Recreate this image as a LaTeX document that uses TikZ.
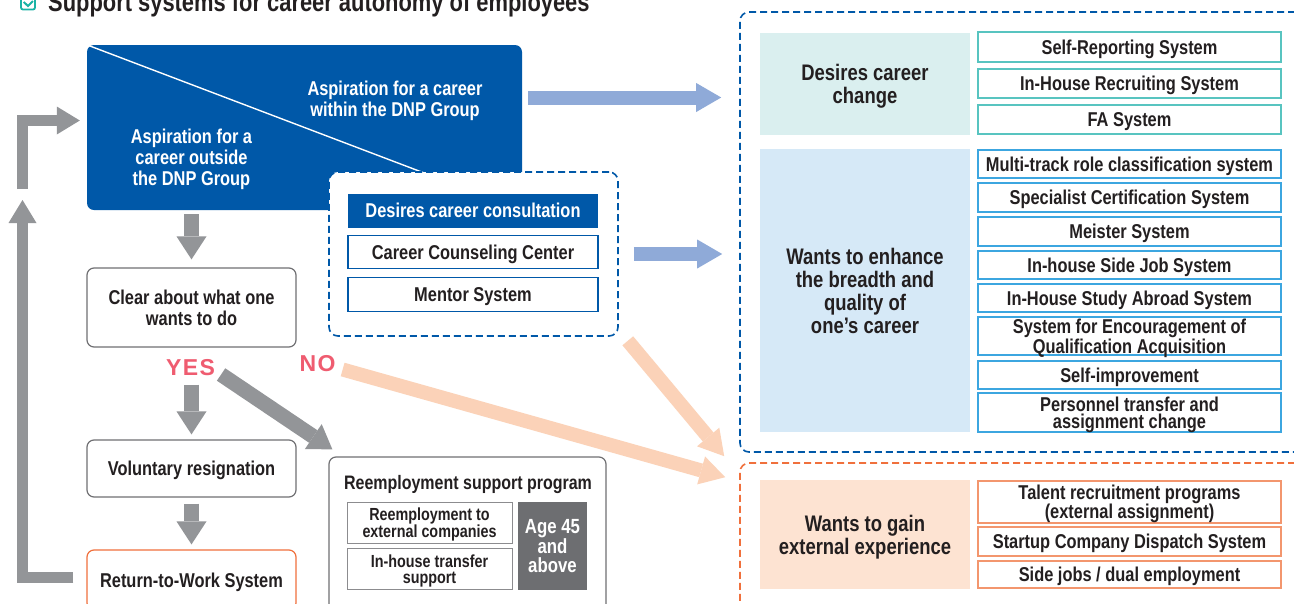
\documentclass[tikz,border=0pt]{standalone}
\usepackage{fontspec}
\setmainfont{Liberation Sans}[FakeStretch=0.82]
\newfontfamily\answerfont{Liberation Sans}[LetterSpace=6]
\usetikzlibrary{arrows.meta,calc}

\definecolor{dnpblue}{RGB}{0,88,168}
\definecolor{arrowblue}{RGB}{143,170,216}
\definecolor{arrowgray}{RGB}{147,149,152}
\definecolor{peach}{RGB}{251,210,184}
\definecolor{pinktext}{RGB}{239,92,112}
\definecolor{orangeline}{RGB}{240,112,60}
\definecolor{orangeitem}{RGB}{243,150,110}
\definecolor{tealfill}{RGB}{218,239,239}
\definecolor{tealline}{RGB}{88,196,192}
\definecolor{skyfill}{RGB}{214,233,247}
\definecolor{skyline}{RGB}{60,166,224}
\definecolor{peachfill}{RGB}{253,227,210}
\definecolor{boxgray}{RGB}{112,112,115}
\definecolor{innergray}{RGB}{140,140,143}
\definecolor{textdark}{RGB}{35,31,32}
\definecolor{agegray}{RGB}{109,110,113}
\definecolor{checkteal}{RGB}{26,179,166}

\tikzset{
  every node/.style={inner sep=0pt, align=center, text=textdark, text depth=0pt},
  txt/.style={font=\fontsize{20}{21}\selectfont\bfseries},
  twoline/.style={font=\fontsize{20}{17.5}\selectfont\bfseries},
  flowbox/.style={txt, draw=boxgray, line width=1.2pt, rounded corners=7pt, fill=white, minimum width=209pt},
  listbox/.style={txt, draw=#1, line width=1.3pt, fill=white, minimum width=303pt},
  catbox/.style={fill=#1, minimum width=210pt, font=\fontsize{22.5}{23}\selectfont\bfseries},
  zonebox/.style={draw=#1, line width=1.6pt, dash pattern=on 7pt off 4pt, rounded corners=9pt},
  answer/.style={font=\answerfont\fontsize{23}{23}\selectfont\bfseries, text=pinktext},
  bigarrow/.style n args={4}{draw=#1, line width=#2, line cap=butt,
    -{Triangle[length=#3, width=#4, line width=0pt]}},
  grayarrow/.style={bigarrow={arrowgray}{15pt}{23pt}{30pt}},
  looparrow/.style={bigarrow={arrowgray}{11pt}{23pt}{28pt}, line join=miter},
  bluearrow/.style={bigarrow={arrowblue}{14pt}{25pt}{29pt}},
  peacharrow/.style={bigarrow={peach}{14pt}{25pt}{29pt}},
}

\begin{document}
\begin{tikzpicture}[x=1pt,y=-1pt]
\useasboundingbox (0,0) rectangle (1294,603);
\fill[white] (0,0) rectangle (1294,603);
\clip (0,0) rectangle (1294,603);

% heading
\node[draw=checkteal, line width=1.8pt, rounded corners=2pt, minimum width=14pt, minimum height=15pt] (tick) at (28,2) {};
\draw[checkteal, line width=2pt] ($(tick.center)+(-4.3,0)$) -- ($(tick.center)+(0,4)$) -- ($(tick.center)+(5,-1)$);
\node[anchor=base west, font=\fontsize{26.7}{28}\selectfont\bfseries] (title) at (48,11) {Support systems for career autonomy of employees};

% career aspiration block
\node[fill=dnpblue, rounded corners=7pt, minimum width=435pt, minimum height=165pt] (aspire) at (304.5,127.5) {};
\draw[white, line width=1.4pt] (aspire.north west) -- (aspire.south east);
\node[txt, text=white] (inner) at (395,98.5) {Aspiration for a career\\within the DNP Group};
\node[txt, text=white] (outer) at (191.5,157) {Aspiration for a\\career outside\\the DNP Group};

% consultation block
\node[zonebox=dnpblue, fill=white, minimum width=289pt, minimum height=164pt] (consult) at (473.5,254) {};
\node[txt, fill=dnpblue, text=white, minimum width=250pt, minimum height=34pt] (consulthead) at (473,210.5) {Desires career consultation};
\node[txt, draw=dnpblue, line width=1.2pt, fill=white, minimum width=250pt, minimum height=33pt] (counsel) at (473,252) {Career Counseling Center};
\node[txt, draw=dnpblue, line width=1.2pt, fill=white, minimum width=250pt, minimum height=34pt] (mentor) at (473,294.5) {Mentor System};

% left-hand flow
\node[flowbox, minimum height=79pt] (clear) at (191.5,307.5) {Clear about what one\\wants to do};
\node[answer] (yes) at (190.5,367.5) {YES};
\node[answer] (no) at (317.5,363.5) {NO};
\node[flowbox, minimum height=57pt] (resign) at (191.5,468.5) {Voluntary resignation};
\node[flowbox, draw=orangeline, minimum height=60pt] (return) at (191.5,580) {Return-to-Work System};

% reemployment support
\node[flowbox, minimum width=277pt, minimum height=170pt] (reemp) at (467.5,542) {};
\node[font=\fontsize{19.5}{20}\selectfont\bfseries] (reemptitle) at (468,482) {Reemployment support program};
\node[draw=innergray, line width=1pt, fill=white, minimum width=165pt, minimum height=41pt, font=\fontsize{17.5}{16}\selectfont\bfseries] (external) at (429.5,522.5) {Reemployment to\\external companies};
\node[draw=innergray, line width=1pt, fill=white, minimum width=165pt, minimum height=41pt, font=\fontsize{17.5}{16}\selectfont\bfseries] (transfer) at (429.5,569) {In-house transfer\\support};
\node[fill=agegray, text=white, minimum width=69pt, minimum height=88pt, font=\fontsize{20.5}{19}\selectfont\bfseries] (age) at (552.5,546) {Age 45\\and\\above};

% right-hand zones
\node[zonebox=dnpblue, minimum width=575pt, minimum height=440pt] (zone) at (1027.5,232) {};
\node[zonebox=orangeline, minimum width=575pt, minimum height=160pt] (extzone) at (1027.5,543) {};

\node[catbox=tealfill, minimum height=102pt] (change) at (865,84) {Desires career\\change};
\node[catbox=skyfill, minimum height=283pt] (enhance) at (865,290.5) {Wants to enhance\\the breadth and\\quality of\\one’s career};
\node[catbox=peachfill, minimum height=109pt] (gain) at (865,534.5) {Wants to gain\\external experience};

\node[listbox=tealline, minimum height=30pt] (selfrep) at (1129.5,47) {Self-Reporting System};
\node[listbox=tealline, minimum height=29pt] (recruit) at (1129.5,83.5) {In-House Recruiting System};
\node[listbox=tealline, minimum height=29pt] (fa) at (1129.5,119.5) {FA System};

\node[listbox=skyline, minimum height=28pt] (multitrack) at (1129.5,164) {Multi-track role classification system};
\node[listbox=skyline, minimum height=29pt] (specialist) at (1129.5,197.5) {Specialist Certification System};
\node[listbox=skyline, minimum height=29pt] (meister) at (1129.5,231.5) {Meister System};
\node[listbox=skyline, minimum height=28pt] (sidejob) at (1129.5,265) {In-house Side Job System};
\node[listbox=skyline, minimum height=28pt] (abroad) at (1129.5,298) {In-House Study Abroad System};
\node[listbox=skyline, twoline, minimum height=38pt] (qualify) at (1129.5,336) {System for Encouragement of\\Qualification Acquisition};
\node[listbox=skyline, minimum height=28pt] (selfimp) at (1129.5,375) {Self-improvement};
\node[listbox=skyline, twoline, minimum height=39pt] (personnel) at (1129.5,412.5) {Personnel transfer and\\assignment change};

\node[listbox=orangeitem, font=\fontsize{20}{19}\selectfont\bfseries, minimum height=42pt] (talent) at (1129.5,502) {Talent recruitment programs\\(external assignment)};
\node[listbox=orangeitem, minimum height=29pt] (startup) at (1129.5,541.5) {Startup Company Dispatch System};
\node[listbox=orangeitem, minimum height=27pt] (dual) at (1129.5,574.5) {Side jobs / dual employment};

% connectors
\draw[grayarrow] ($(aspire.south -| clear.north)+(0,4)$) -- ($(clear.north)+(0,-8)$);
\draw[grayarrow] ($(yes.south -| resign.north)+(0,9)$) -- ($(resign.north)+(0,-5)$);
\draw[grayarrow] ($(resign.south)+(0,6)$) -- ($(return.north)+(0,-5)$);
\draw[grayarrow] ($(yes.east)+(6,7)$) -- ($(reemp.north west)+(4,-7)$);

\coordinate (loopbend) at (22.5,189);
\draw[looparrow] ($(return.west)+(-13,-3)$) -| ($(loopbend)+(0,11)$);
\draw[looparrow] (loopbend) |- ($(aspire.west)+(-7,-7)$);

\draw[bluearrow] ($(aspire.east)+(6,-30)$) -- ($(aspire.east -| zone.west)+(-18,-30)$);
\draw[bluearrow] ($(consult.east)+(15,0)$) -- ($(consult.east -| zone.west)+(-17,0)$);

\draw[peacharrow] ($(consult.south east)+(9,4)$) -- ($(extzone.north west)+(-15,-6)$);
\draw[peacharrow] ($(no.east)+(7,6)$) -- ($(extzone.north west)+(-14,15)$);
\end{tikzpicture}
\end{document}
